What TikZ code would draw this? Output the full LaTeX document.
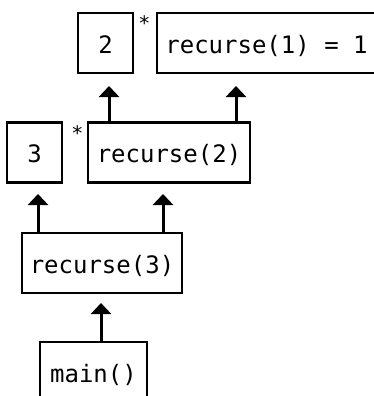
\documentclass[tikz,border=0pt]{standalone}
\usepackage{fontspec}
\setmonofont{DejaVu Sans Mono}
\usetikzlibrary{arrows.meta}
\begin{document}
\begin{tikzpicture}[x=1pt,y=-1pt,
  code/.style={font=\ttfamily\fontsize{24}{28}\selectfont},
  frame/.style={code, draw, line width=2.8pt, inner sep=0pt, outer sep=0pt,
    minimum height=60pt, text height=20pt, text depth=0pt},
  mult/.style={inner sep=0pt, font=\ttfamily\fontsize{20}{24}\selectfont},
  up/.style={line width=3pt, -{Triangle[width=20pt,length=11pt]}}]
  \useasboundingbox (0,0) rectangle (374,396);
  \clip (0,0) rectangle (374,396);

  % top row: 2 * recurse(1)
  \node[frame, minimum width=55pt]  (two) at (105.5,43) {2};
  \node[mult, anchor=north] (m1) at (144.5,15) {*};
  \node[frame, minimum width=219pt] (r1)  at (266.5,43) {recurse(1) = 1};

  % middle row: 3 * recurse(2)
  \node[frame, minimum width=55pt]  (three) at (34.5,152.5) {3};
  \node[mult, anchor=north] (m2) at (77.5,125) {*};
  \node[frame, minimum width=162pt] (r2)    at (169,152.5) {recurse(2)};

  % recurse(3) and the caller main()
  \node[frame, minimum width=160pt] (r3)   at (102,263) {recurse(3)};
  \node[frame, minimum width=107pt] (main) at (93.5,372) {main()};

  % arrow tips
  \coordinate (t1) at (109,86);
  \coordinate (t2) at (236,86);
  \coordinate (t3) at (38,194);
  \coordinate (t4) at (163,194);
  \coordinate (t5) at (101,303);

  \draw[up] (t1 |- r2.north)   -- (t1);
  \draw[up] (t2 |- r2.north)   -- (t2);
  \draw[up] (t3 |- r3.north)   -- (t3);
  \draw[up] (t4 |- r3.north)   -- (t4);
  \draw[up] (t5 |- main.north) -- (t5);
\end{tikzpicture}
\end{document}
